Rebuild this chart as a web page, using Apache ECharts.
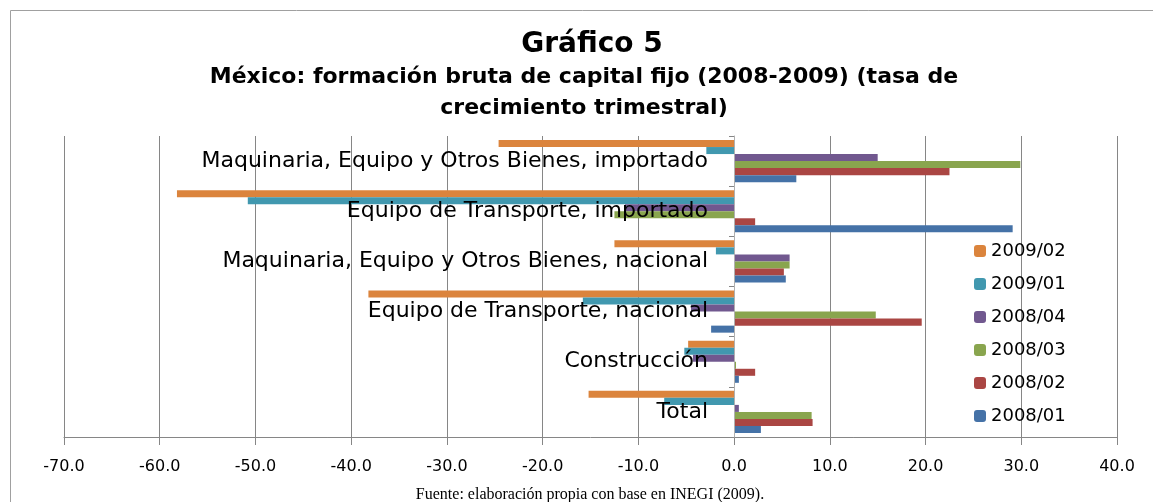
<!DOCTYPE html>
<html>
<head>
<meta charset="utf-8">
<script src="https://cdn.jsdelivr.net/npm/echarts@6/dist/echarts.min.js"></script>
<style>
html,body{margin:0;padding:0;background:#fff;}
#chart{width:1153px;height:502px;}
</style>
</head>
<body>
<div id="chart"></div>
<script>
// categorias (de abajo hacia arriba)
var categorias = ['Total', 'Construcción', 'Equipo de Transporte, nacional',
	'Maquinaria, Equipo y Otros Bienes, nacional', 'Equipo de Transporte, importado',
	'Maquinaria, Equipo y Otros Bienes, importado'];
var trimestres = ['2008/01', '2008/02', '2008/03', '2008/04', '2009/01', '2009/02'];
var colores = ['#4572a7', '#aa4643', '#89a54e', '#71588f', '#4198af', '#db843d'];
var v2008_01 = [2.8, 0.5, -2.4, 5.4, 29.1, 6.5];
var v2008_02 = [8.2, 2.2, 19.6, 5.2, 2.2, 22.5];
var v2008_03 = [8.1, 0.2, 14.8, 5.8, -12.5, 29.9];
var v2008_04 = [0.5, -4.3, -4.5, 5.8, -11.4, 15.0];
var v2009_01 = [-7.3, -5.2, -15.8, -1.9, -50.8, -2.9];
var v2009_02 = [-15.2, -4.8, -38.2, -12.5, -58.2, -24.6];
var valores = [v2008_01, v2008_02, v2008_03, v2008_04, v2009_01, v2009_02];

var myChart = echarts.init(document.getElementById('chart'));
var series = [];
// ultimo trimestre arriba dentro de cada grupo
for (var i = trimestres.length - 1; i >= 0; i--) {
	series.push({
		name: trimestres[i],
		type: 'bar',
		data: valores[i],
		barGap: '0%',
		barCategoryGap: '16%',
		itemStyle: {color: colores[i]}
	});
}
var option = {
	animation: false,
	title: [
		{
			text: 'Gráfico 5',
			left: 587, top: 26, textAlign: 'center',
			textStyle: {fontFamily: 'DejaVu Sans', fontWeight: 'bold', fontSize: 28, color: '#000'}
		},
		{
			text: 'México: formación bruta de capital fijo (2008-2009) (tasa de\ncrecimiento trimestral)',
			left: 579, top: 57, textAlign: 'center',
			textStyle: {fontFamily: 'DejaVu Sans', fontWeight: 'bold', fontSize: 22, lineHeight: 31, color: '#000'}
		},
		{
			text: 'Fuente: elaboración propia con base en INEGI (2009).',
			left: 585, top: 482, textAlign: 'center',
			textStyle: {fontFamily: 'Liberation Serif', fontWeight: 'normal', fontSize: 16, color: '#000'}
		}
	],
	graphic: [{
		type: 'rect',
		shape: {x: 10.5, y: 10.5, width: 1200, height: 600},
		style: {fill: 'none', stroke: '#a0a0a0', lineWidth: 1},
		silent: true
	}],
	legend: {
		data: trimestres.slice().reverse(),
		orient: 'vertical',
		left: 969, top: 237,
		itemWidth: 12, itemHeight: 12,
		itemGap: 15,
		textStyle: {fontFamily: 'DejaVu Sans', fontSize: 18, color: '#000'}
	},
	grid: {left: 64, right: 36, top: 136, bottom: 65, containLabel: false, outerBoundsMode: 'none'},
	xAxis: {
		type: 'value',
		min: -70, max: 40, interval: 10,
		axisLine: {show: true, lineStyle: {color: '#868686'}},
		axisTick: {show: true, length: 8, lineStyle: {color: '#868686'}},
		splitLine: {show: true, lineStyle: {color: '#868686', width: 1}},
		axisLabel: {
			margin: 22,
			fontFamily: 'DejaVu Sans', fontSize: 16, color: '#000',
			formatter: function (v) { return v.toFixed(1); }
		}
	},
	yAxis: {
		type: 'category',
		data: categorias,
		offset: -670,
		axisLine: {show: true, onZero: false, lineStyle: {color: '#b0b0b0'}},
		axisTick: {show: true, length: 5, lineStyle: {color: '#868686'}},
		axisLabel: {margin: 26, fontFamily: 'DejaVu Sans', fontSize: 22, color: '#000'},
		z: 10
	},
	series: series
};
myChart.setOption(option);
</script>
</body>
</html>
